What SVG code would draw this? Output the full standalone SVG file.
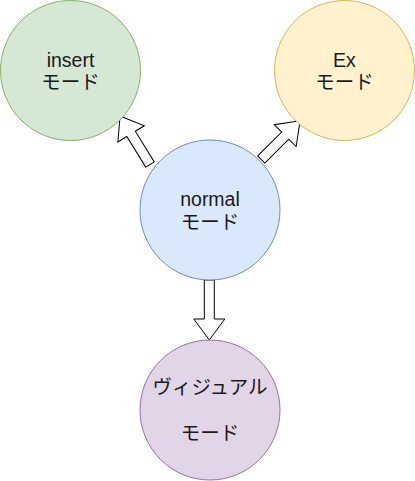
<svg xmlns="http://www.w3.org/2000/svg" width="415" height="481" viewBox="0 0 415 481">
<style>
.arrow{fill:#ffffff;stroke:#000000;stroke-width:1;stroke-linejoin:miter}
.lbl{font-family:"Liberation Sans","Noto Sans CJK JP",sans-serif;font-size:19.5px;fill:#1a1a1a;text-anchor:middle}
</style>
<rect width="415" height="481" fill="#ffffff"/>
<g id="connectors">
<path class="arrow" transform="translate(209.3,280) rotate(90)" d="M0,-5 L39,-5 L39,-15.5 L60,0 L39,15.5 L39,5 L0,5 Z"/>
<path class="arrow" transform="translate(150,164.5) rotate(-121.7)" d="M0,-5 L36,-5 L36,-15.5 L57,0 L36,15.5 L36,5 L0,5 Z"/>
<path class="arrow" transform="translate(261.3,159.5) rotate(-45)" d="M0,-5 L33.8,-5 L33.8,-15.5 L54.8,0 L33.8,15.5 L33.8,5 L0,5 Z"/>
</g>
<g id="insert">
<circle cx="70.5" cy="70.5" r="70" fill="#d5e8d4" stroke="#82b366"/>
<text class="lbl" x="70.5" y="66.5">insert</text>
<text class="lbl" x="70.5" y="89">モード</text>
</g>
<g id="ex">
<circle cx="344.5" cy="70.5" r="70" fill="#fff2cc" stroke="#d6b656"/>
<text class="lbl" x="344.5" y="66.5">Ex</text>
<text class="lbl" x="344.5" y="89">モード</text>
</g>
<g id="normal">
<circle cx="210" cy="210" r="70" fill="#dae8fc" stroke="#6c8ebf"/>
<text class="lbl" x="210" y="206">normal</text>
<text class="lbl" x="210" y="228.5">モード</text>
</g>
<g id="visual">
<circle cx="210" cy="410" r="70" fill="#e1d5e7" stroke="#9673a6"/>
<text class="lbl" x="210" y="394">ヴィジュアル</text>
<text class="lbl" x="210" y="440">モード</text>
</g>
</svg>
